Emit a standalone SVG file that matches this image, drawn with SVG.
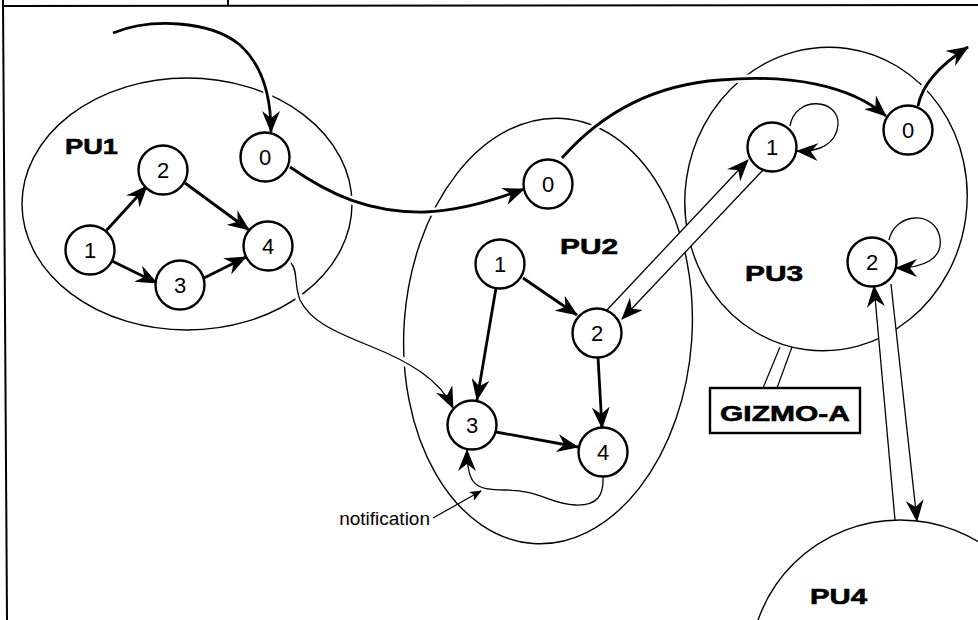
<svg xmlns="http://www.w3.org/2000/svg" width="978" height="620" viewBox="0 0 978 620">
<style>
  .frame { stroke:#000; stroke-width:2; fill:none; }
  .pu { fill:none; stroke:#000; stroke-width:1.4; }
  .node circle { fill:#fff; stroke:#000; stroke-width:2.4; }
  .node text { font-family:"Liberation Sans", Arial, sans-serif; font-size:22px; text-anchor:middle; fill:#000; }
  .lbl { font-family:"Liberation Sans", Arial, sans-serif; font-weight:bold; font-size:22px; fill:#000; stroke:#000; stroke-width:0.6; }
  .thick { fill:none; stroke:#000; stroke-width:2.8; marker-end:url(#ah); }
  .thin { fill:none; stroke:#000; stroke-width:1.3; marker-end:url(#ah); }
  .halo { fill:none; stroke:#fff; stroke-width:8; }
  .pipe { fill:none; stroke:#000; stroke-width:1.2; }
  .note { font-family:"Liberation Sans", Arial, sans-serif; font-size:19px; fill:#000; }
</style>
<defs>
  <marker id="ah" viewBox="0 0 22 18" refX="21" refY="9" markerWidth="22" markerHeight="18" markerUnits="userSpaceOnUse" orient="auto">
    <path d="M0,0 L22,9 L0,18 L7,9 z" fill="#000"/>
  </marker>
  <marker id="ahs" viewBox="0 0 12 10" refX="11" refY="5" markerWidth="12" markerHeight="10" markerUnits="userSpaceOnUse" orient="auto">
    <path d="M0,0 L12,5 L0,10 L3,5 z" fill="#000"/>
  </marker>
</defs>
<rect width="978" height="620" fill="#fff"/>
<g id="frame">
  <path class="frame" d="M3,0 L7,620"/>
  <path class="frame" d="M3,6 L978,5" stroke-width="1.6"/>
  <path class="frame" d="M228,0 L228,6" stroke-width="1.2"/>
</g>

<g id="PU1">
  <ellipse class="pu" cx="187" cy="204" rx="165" ry="126"/>
  <text class="lbl" x="65" y="154" textLength="53" lengthAdjust="spacingAndGlyphs">PU1</text>
</g>
<g id="PU2">
  <ellipse class="pu" cx="548" cy="331" rx="144" ry="213" transform="rotate(4 548 331)"/>
  <text class="lbl" x="560" y="254" textLength="58" lengthAdjust="spacingAndGlyphs">PU2</text>
</g>
<g id="PU3">
  <ellipse class="pu" cx="826" cy="199" rx="141" ry="152" transform="rotate(8 826 199)"/>
  <text class="lbl" x="745" y="281" textLength="58" lengthAdjust="spacingAndGlyphs">PU3</text>
</g>
<g id="PU4">
  <ellipse class="pu" cx="900" cy="668" rx="150" ry="148"/>
  <text class="lbl" x="810" y="604" textLength="57" lengthAdjust="spacingAndGlyphs">PU4</text>
</g>
<g id="GIZMO-A">
  <rect x="710" y="388" width="150" height="45" fill="#fff" stroke="#000" stroke-width="2.4"/>
  <text class="lbl" x="720" y="421" font-size="25" textLength="130" lengthAdjust="spacingAndGlyphs">GIZMO-A</text>
</g>

<g id="connectors">
  <path class="halo" d="M113,33 C150,18 210,20 240,45 C262,65 271,95 271,122"/>
  <path class="halo" d="M290,167 C330,195 370,213 425,212 C460,211 495,200 515,192"/>
  <path class="halo" d="M562,158 C600,115 650,85 720,80 C790,74 850,85 880,110"/>
  <path class="halo" d="M918,103 C922,85 940,65 960,52"/>
  <path class="halo" stroke-width="6" d="M291,263 C298,270 294,285 300,300 C310,320 330,330 370,346 C410,362 440,380 448,400"/>
  <polygon points="653,261.5 718,192.5 731,203.8 666,272.5" fill="#fff"/>
  <polygon points="877,318 880.6,362 899.4,362 895,318" fill="#fff"/>

  <path class="thick" d="M113,33 C150,18 210,20 240,45 C262,65 271,95 271,132"/>
  <path class="thick" d="M105,232 L147,186"/>
  <path class="thick" d="M185,183 L249,230"/>
  <path class="thick" d="M112,261 L157,283"/>
  <path class="thick" d="M204,278 L246,257"/>
  <path class="thick" d="M290,167 C330,195 370,213 425,212 C460,211 495,200 524,189"/>
  <path class="thin" d="M291,263 C298,270 294,285 300,300 C310,320 330,330 370,346 C410,362 440,380 453,408"/>
  <path class="thick" d="M523,278 L577,315"/>
  <path class="thick" d="M496,288 L477,400"/>
  <path class="thick" d="M598,357 L602,428"/>
  <path class="thick" d="M496,432 L578,447"/>
  <path class="thin" stroke-width="1.2" d="M603,476 C604,495 598,506 575,505 C550,504 540,490 505,490 C475,490 467,485 467,450"/>
  <path fill="none" stroke="#000" stroke-width="1.2" marker-end="url(#ahs)" d="M433,518 L481,491"/>
  <path class="thick" d="M562,158 C600,115 650,85 720,80 C790,74 850,85 886,116"/>
  <path class="thick" d="M918,106 C922,85 940,65 968,47"/>
  <path class="thin" stroke-width="1.2" d="M607,310 L748,160"/>
  <path class="thin" stroke-width="1.2" d="M763,170 L622,319"/>
  <path class="thin" stroke-width="1.4" d="M790,126 C795,95 840,98 838,125 C836,145 818,152 797,151"/>
  <path class="thin" stroke-width="1.4" d="M889,240 C895,212 935,210 940,238 C943,258 925,268 896,268"/>
  <path class="thin" stroke-width="1.2" d="M895,520 L874,286"/>
  <path class="thin" stroke-width="1.2" d="M891,284 L917,521"/>
  <path class="pipe" d="M780,347 L763,388"/>
  <path class="pipe" d="M792,347 L777,388"/>
</g>

<g id="PU1-n0" class="node"><circle cx="265" cy="157" r="24.5"/><text x="265" y="165">0</text></g>
<g id="PU1-n1" class="node"><circle cx="90" cy="250" r="24.5"/><text x="90" y="258">1</text></g>
<g id="PU1-n2" class="node"><circle cx="163" cy="170" r="24.5"/><text x="163" y="178">2</text></g>
<g id="PU1-n3" class="node"><circle cx="180" cy="285" r="24.5"/><text x="180" y="293">3</text></g>
<g id="PU1-n4" class="node"><circle cx="268" cy="246" r="24.5"/><text x="268" y="254">4</text></g>

<g id="PU2-n0" class="node"><circle cx="548" cy="184" r="24.5"/><text x="548" y="192">0</text></g>
<g id="PU2-n1" class="node"><circle cx="500" cy="264" r="24.5"/><text x="500" y="272">1</text></g>
<g id="PU2-n2" class="node"><circle cx="597" cy="333" r="24.5"/><text x="597" y="341">2</text></g>
<g id="PU2-n3" class="node"><circle cx="472" cy="425" r="24.5"/><text x="472" y="433">3</text></g>
<g id="PU2-n4" class="node"><circle cx="603" cy="452" r="24.5"/><text x="603" y="460">4</text></g>

<g id="PU3-n0" class="node"><circle cx="908" cy="130" r="24.5"/><text x="908" y="138">0</text></g>
<g id="PU3-n1" class="node"><circle cx="772" cy="147" r="24.5"/><text x="772" y="155">1</text></g>
<g id="PU3-n2" class="node"><circle cx="872" cy="262" r="24.5"/><text x="872" y="270">2</text></g>

<g id="notification-label">
  <text class="note" x="430" y="525" text-anchor="end">notification</text>
</g>
</svg>
